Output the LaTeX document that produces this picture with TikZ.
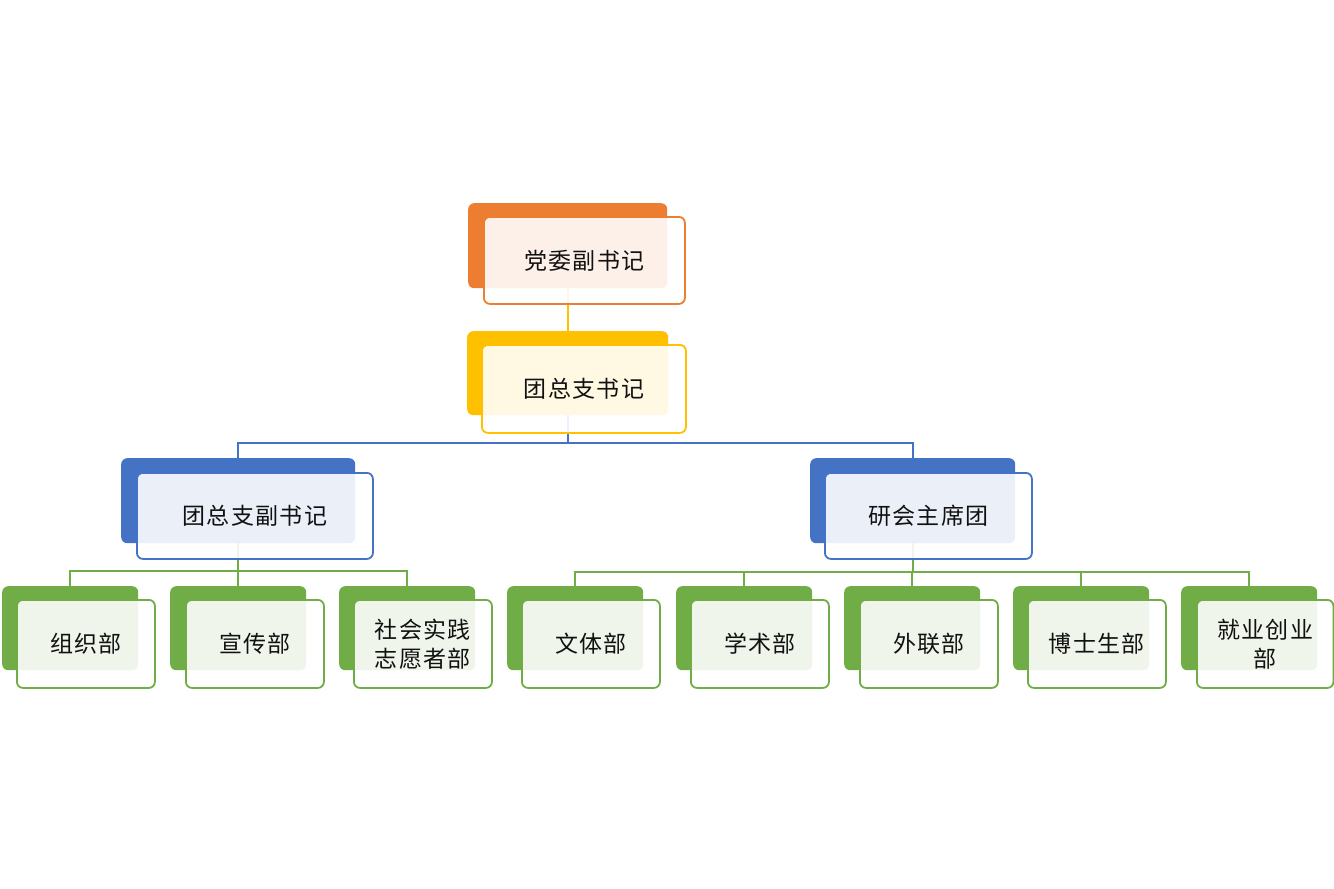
\documentclass[tikz,border=0pt]{standalone}
\usepackage{fontspec}
\newfontfamily\cjk{Noto Sans CJK SC}[LetterSpace=6]
\definecolor{cOr}{HTML}{ED7D31}
\definecolor{cYe}{HTML}{FFC000}
\definecolor{cBl}{HTML}{4472C4}
\definecolor{cGr}{HTML}{70AD47}
\definecolor{cTx}{HTML}{111111}
\tikzset{
  backbox/.style={rectangle, rounded corners=6, fill=#1, draw=none, anchor=north west, inner sep=0},
  frontbox/.style={rectangle, rounded corners=6, draw=#1, line width=1.8, fill=white, fill opacity=0.89, text opacity=1, anchor=north west, align=center, inner sep=0, text=cTx, font=\cjk\fontsize{23}{29}\selectfont},
  link/.style={draw=#1, line width=1.9},
  leafback/.style={backbox=cGr, minimum width=136, minimum height=84},
  leaffront/.style={frontbox=cGr, minimum width=138, minimum height=88},
}
\begin{document}
\begin{tikzpicture}[x=1pt,y=-1pt]
\useasboundingbox (0,0) rectangle (1334,889);
% back boxes
\node[backbox=cOr, minimum width=199, minimum height=85] (b1) at (468,203) {};
\node[backbox=cYe, minimum width=201, minimum height=84] (b2) at (467,331) {};
\node[backbox=cBl, minimum width=234, minimum height=85] (b3) at (121,458) {};
\node[backbox=cBl, minimum width=205, minimum height=85] (b4) at (810,458) {};
\node[leafback] (l1) at (2,586) {};
\node[leafback] (l2) at (170,586) {};
\node[leafback] (l3) at (339,586) {};
\node[leafback] (l4) at (507,586) {};
\node[leafback] (l5) at (676,586) {};
\node[leafback] (l6) at (844,586) {};
\node[leafback] (l7) at (1013,586) {};
\node[leafback] (l8) at (1181,586) {};
% connectors
\draw[link=cYe] (b1.south) -- (b2.north);
\draw[link=cBl] (b2.south) -- ++(0,28) -| (b3.north);
\draw[link=cBl] (b2.south) -- ++(0,28) -| (b4.north);
\foreach \c in {l1,l2,l3}{\draw[link=cGr] (b3.south) -- ++(0,28) -| (\c.north);}
\foreach \c in {l4,l5,l6,l7,l8}{\draw[link=cGr] (b4.south) -- ++(0,29) -| (\c.north);}
% front boxes
\node[frontbox=cOr, minimum width=201, minimum height=87] (f1) at (483,216) {党委副书记};
\node[frontbox=cYe, minimum width=204, minimum height=88] (f2) at (481,344) {团总支书记};
\node[frontbox=cBl, minimum width=236, minimum height=86] (f3) at (136,472) {团总支副书记};
\node[frontbox=cBl, minimum width=207, minimum height=86] (f4) at (824,472) {研会主席团};
\node[leaffront] (g1) at (16,599) {组织部};
\node[leaffront] (g2) at (185,599) {宣传部};
\node[leaffront] (g3) at (353,599) {社会实践\\志愿者部};
\node[leaffront] (g4) at (521,599) {文体部};
\node[leaffront] (g5) at (690,599) {学术部};
\node[leaffront] (g6) at (859,599) {外联部};
\node[leaffront] (g7) at (1027,599) {博士生部};
\node[leaffront, minimum width=136.5] (g8) at (1196,599) {就业创业\\部};
\end{tikzpicture}
\end{document}
